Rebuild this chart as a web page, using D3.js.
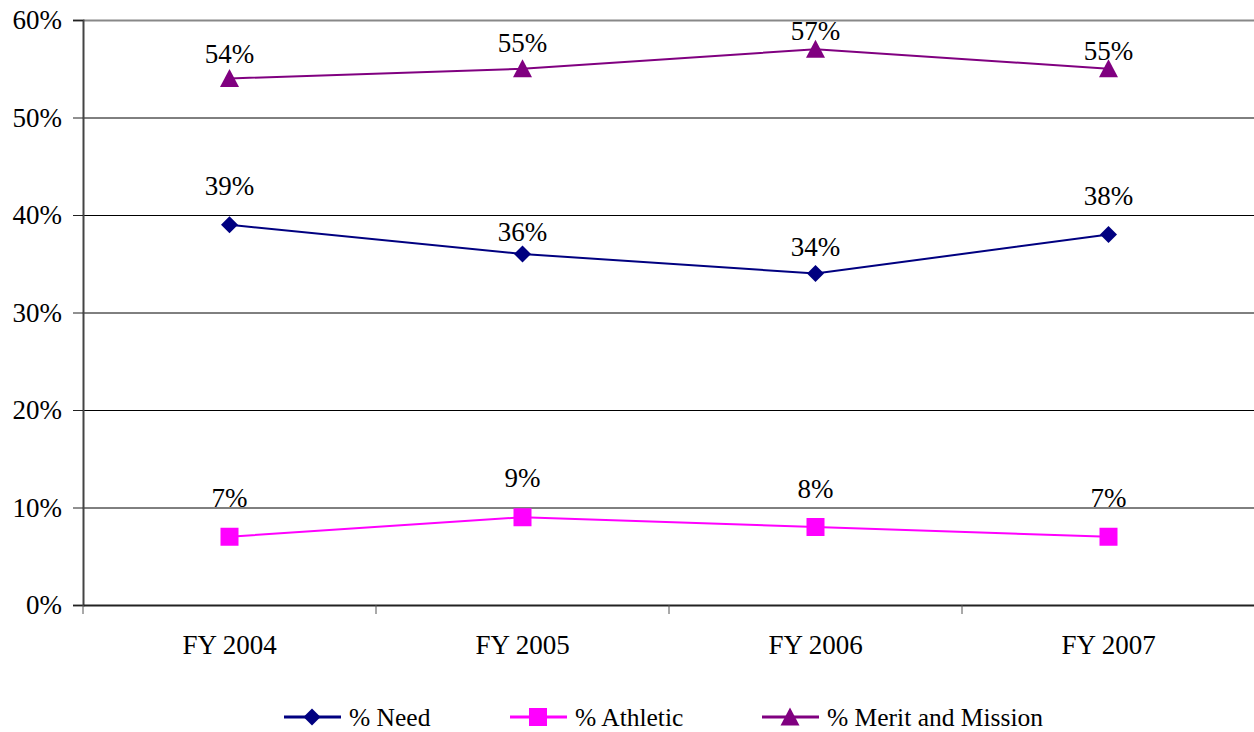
<!DOCTYPE html>
<html><head><meta charset="utf-8">
<script src="https://cdn.jsdelivr.net/npm/d3@7"></script>
<style>body{margin:0;background:#fff}svg{display:block}</style>
</head><body>
<svg id="c" width="1254" height="732" style="font-family:'Liberation Serif','Times New Roman',Tinos,serif"></svg>
<script>
const categories = ["FY 2004","FY 2005","FY 2006","FY 2007"];
const need = [39,36,34,38];
const athletic = [7,9,8,7];
const merit = [54,55,57,55];
const yTicks = [0,10,20,30,40,50,60];
const seriesNames = ["% Need","% Athletic","% Merit and Mission"];
// vertical gap between each point and the baseline of its value label
const labelLift = {need:[30,13,18,30], athletic:[30,30,29,30], merit:[16,17,9,9]};

const FONT = "'Liberation Serif','Times New Roman',Tinos,serif";
const svg = d3.select("#c");
const L=83, R=1255, T=20, B=605;
const x = d3.scaleBand().domain(categories).range([L,R]);
const y = d3.scaleLinear().domain([0,60]).range([B,T]);
const cx = d => x(d)+x.bandwidth()/2;

// gridlines
svg.append("g").selectAll("line").data(yTicks.filter(t=>t>0)).join("line")
  .attr("x1",L).attr("x2",R).attr("y1",d=>y(d)+0.5).attr("y2",d=>y(d)+0.5)
  .attr("stroke",d=>d===60?"#888":"#000").attr("stroke-width",d=>d===60?2:1);

// y axis
const ya = svg.append("g").attr("transform",`translate(${L},0)`)
  .call(d3.axisLeft(y).tickValues(yTicks).tickFormat(d=>d+"%").tickSize(10).tickPadding(11));
ya.attr("font-family",FONT);
ya.select(".domain").attr("stroke","#444").attr("stroke-width",2);
ya.selectAll(".tick line").attr("stroke","#222");
ya.selectAll(".tick text").attr("font-size",27).attr("fill","#000");

// x axis
const xa = svg.append("g").attr("transform",`translate(0,${B})`)
  .call(d3.axisBottom(x).tickSize(0).tickPadding(35));
xa.attr("font-family",FONT);
xa.select(".domain").attr("stroke","#222").attr("stroke-width",2);
xa.selectAll(".tick text").attr("font-size",27).attr("fill","#000").attr("dy","0.5em");
svg.append("g").selectAll("line").data(x.domain().map(d=>x(d)).concat([R])).join("line")
  .attr("x1",d=>d).attr("x2",d=>d).attr("y1",B).attr("y2",B+9).attr("stroke","#555");

const series = [
  {key:"need", name:seriesNames[0], vals:need, color:"#000080", shape:"diamond"},
  {key:"athletic", name:seriesNames[1], vals:athletic, color:"#FF00FF", shape:"square"},
  {key:"merit", name:seriesNames[2], vals:merit, color:"#800080", shape:"triangle"}
];
function marker(sel, shape, color){
  if(shape==="diamond") sel.append("path").attr("d","M0,-8.5L8.5,0L0,8.5L-8.5,0Z").attr("fill",color);
  else if(shape==="square") sel.append("rect").attr("x",-9).attr("y",-9).attr("width",18).attr("height",18).attr("fill",color);
  else sel.append("path").attr("d","M0,-9.5L9.5,8.5L-9.5,8.5Z").attr("fill",color);
}
const line = d3.line().x((d,i)=>cx(categories[i])).y(d=>y(d));
series.forEach(s=>{
  svg.append("path").attr("d",line(s.vals)).attr("fill","none").attr("stroke",s.color).attr("stroke-width",2);
  s.vals.forEach((v,i)=>{
    const g = svg.append("g").attr("transform",`translate(${cx(categories[i])},${y(v)})`);
    marker(g,s.shape,s.color);
    svg.append("text").attr("x",cx(categories[i])).attr("y",y(v)-labelLift[s.key][i])
      .attr("text-anchor","middle").attr("font-size",27).attr("fill","#000").text(v+"%");
  });
});

// legend
const legX = [284,510,762];
series.forEach((s,i)=>{
  const g = svg.append("g").attr("transform",`translate(${legX[i]},717)`);
  g.append("line").attr("x1",0).attr("x2",57).attr("stroke",s.color).attr("stroke-width",3);
  const m = g.append("g").attr("transform","translate(28,0)");
  marker(m,s.shape,s.color);
  g.append("text").attr("x",65).attr("y",9).attr("font-size",25.5).attr("fill","#000").text(s.name);
});
</script>
</body></html>
